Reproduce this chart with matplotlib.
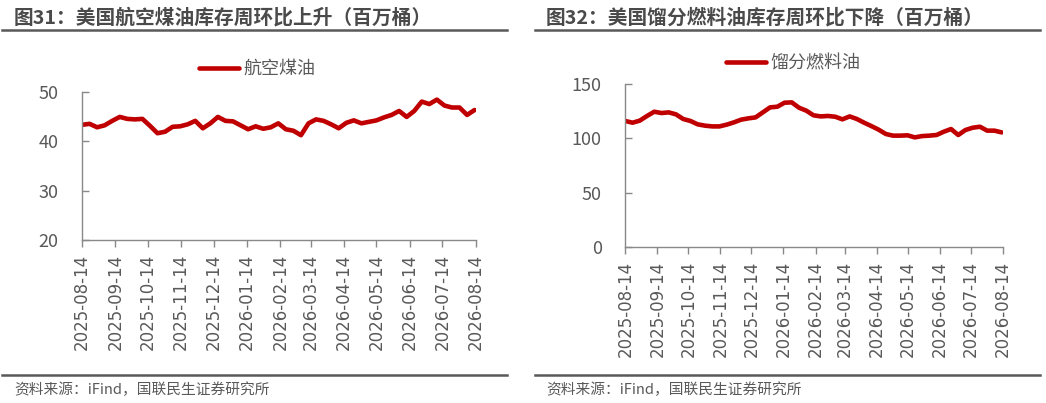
import matplotlib
matplotlib.use("Agg")
import matplotlib.pyplot as plt
from matplotlib.lines import Line2D
import pandas as pd

plt.rcParams['font.family'] = ['Noto Sans CJK SC', 'DejaVu Sans']

# ---------------- data ----------------
start_date = "2025-08-14"
n_weeks = 53
tick_labels = ["2025-08-14", "2025-09-14", "2025-10-14", "2025-11-14", "2025-12-14",
               "2026-01-14", "2026-02-14", "2026-03-14", "2026-04-14", "2026-05-14",
               "2026-06-14", "2026-07-14", "2026-08-14"]

jet_fuel = [43.3, 43.5, 42.8, 43.2, 44.1, 44.9, 44.5, 44.4, 44.5, 43.1,
            41.6, 41.9, 42.9, 43.0, 43.4, 44.1, 42.6, 43.6, 44.9, 44.1,
            44.0, 43.2, 42.4, 43.0, 42.5, 42.8, 43.6, 42.4, 42.1, 41.2,
            43.6, 44.4, 44.1, 43.4, 42.6, 43.7, 44.2, 43.6, 43.9, 44.2,
            44.8, 45.3, 46.1, 44.9, 46.1, 48.0, 47.5, 48.4, 47.2, 46.8,
            46.8, 45.3, 46.3]

distillate = [116.0, 114.4, 116.3, 120.6, 124.5, 123.3, 123.9, 122.1, 117.8, 116.0,
              112.9, 111.7, 111.0, 111.0, 112.6, 114.7, 117.2, 118.4, 119.3, 123.9,
              128.5, 129.1, 132.8, 133.1, 128.2, 125.5, 121.2, 120.2, 120.6, 119.9,
              117.5, 120.2, 117.8, 114.4, 111.3, 108.0, 104.0, 102.5, 102.5, 102.8,
              100.9, 102.1, 102.5, 103.1, 106.1, 108.6, 103.1, 107.7, 109.8, 110.7,
              107.1, 107.1, 105.5]

titles = ["图31：美国航空煤油库存周环比上升（百万桶）",
          "图32：美国馏分燃料油库存周环比下降（百万桶）"]
series_names = ["航空煤油", "馏分燃料油"]
source_text = "资料来源：iFind，国联民生证券研究所"

dates = pd.date_range(start_date, periods=n_weeks, freq="7D")
ticks = pd.to_datetime(tick_labels)

# ---------------- style ----------------
W, H = 1046, 403
RED = "#C00000"
GREY = "#595959"
SPINE = "#898989"

fig = plt.figure(figsize=(W / 100, H / 100), dpi=100)
fig.patch.set_facecolor("white")


def fx(px):
    return px / W


def fy(py):
    return 1 - py / H


panels = [
    dict(rect=(82, 91.7, 475.7, 240), data=jet_fuel, ylim=(20, 50), yticks=[20, 30, 40, 50],
         title_x=14, line_x=(2, 507), src_x=14, leg=(257.5, 69)),
    dict(rect=(625.3, 84, 1002.7, 247.1), data=distillate, ylim=(0, 150), yticks=[0, 50, 100, 150],
         title_x=546, line_x=(535, 1040), src_x=546, leg=(793, 63)),
]

for p, title, name in zip(panels, titles, series_names):
    l, t, r, b = p["rect"]
    ax = fig.add_axes([fx(l), fy(b), fx(r) - fx(l), fy(t) - fy(b)])
    ln, = ax.plot(dates, p["data"], color=RED, lw=3.3, solid_joinstyle="round",
                  solid_capstyle="round", label=name)
    ax.set_xlim(ticks[0], ticks[-1])
    ax.set_ylim(*p["ylim"])
    ax.set_yticks(p["yticks"])
    ax.set_xticks(ticks)
    ax.set_xticklabels(tick_labels, rotation=90, family="DejaVu Sans", fontsize=12)
    for s in ["top", "right"]:
        ax.spines[s].set_visible(False)
    for s in ["left", "bottom"]:
        ax.spines[s].set_color(SPINE)
        ax.spines[s].set_linewidth(1.0)
    ax.tick_params(axis="y", direction="in", length=5, width=1, color=SPINE,
                   labelsize=13, labelcolor=GREY, pad=17)
    ax.tick_params(axis="x", direction="out", length=5, width=1, color=SPINE,
                   labelcolor=GREY, pad=5)
    ax.set_facecolor("none")
    ax.patch.set_alpha(0)

    # title
    fig.text(fx(p["title_x"]), fy(18), title, fontsize=14.2, fontweight="bold",
             color="#4a4a4a", va="center", ha="left")
    fig.add_artist(Line2D([fx(p["line_x"][0]), fx(p["line_x"][1])], [fy(30), fy(30)],
                          color=GREY, lw=1.8))
    # source
    fig.add_artist(Line2D([fx(p["line_x"][0]), fx(p["line_x"][1])], [fy(375), fy(375)],
                          color=GREY, lw=1.8))
    fig.text(fx(p["src_x"]), fy(390), source_text, fontsize=10.6, color=GREY,
             va="center", ha="left")
    # legend
    fig.legend(handles=[ln], loc="center", bbox_to_anchor=(fx(p["leg"][0]), fy(p["leg"][1])),
               frameon=False, fontsize=13, handlelength=2.2, handletextpad=0.25,
               labelcolor=GREY, borderpad=0.1)

fig.savefig("out.png", dpi=100, facecolor="white")
